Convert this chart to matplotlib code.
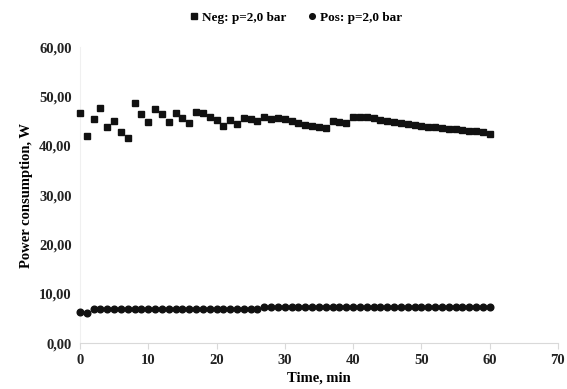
import numpy as np
import matplotlib
matplotlib.use("Agg")
import matplotlib.pyplot as plt

plt.rcParams['font.family'] = ['Liberation Serif', 'DejaVu Serif']
plt.rcParams['font.weight'] = 'bold'

# time in minutes, one reading per minute
time_min = np.arange(0, 61)

# Neg: p=2,0 bar
neg_power = [46.7, 42.0, 45.4, 47.7, 43.7, 45.0, 42.7, 41.5, 48.7, 46.5,
             44.8, 47.5, 46.5, 44.9, 46.6, 45.6, 44.6, 46.8, 46.6, 45.8,
             45.2, 44.1, 45.2, 44.4, 45.7, 45.4, 45.0, 45.9, 45.4, 45.7,
             45.4, 45.0, 44.6, 44.3, 44.0, 43.7, 43.5, 45.1, 44.8, 44.6,
             45.9, 45.9, 45.8, 45.6, 45.2, 45.0, 44.8, 44.6, 44.4, 44.2,
             44.0, 43.8, 43.7, 43.6, 43.4, 43.3, 43.2, 43.0, 42.9, 42.7,
             42.3]

# Pos: p=2,0 bar
pos_power = [6.4, 6.2] + [7.0] * 25 + [7.3] * 34

x_ticks = [0, 10, 20, 30, 40, 50, 60, 70]
y_ticks = [0, 10, 20, 30, 40, 50, 60]

fig = plt.figure(figsize=(5.67, 3.89), dpi=100)
ax = fig.add_axes([0.141, 0.118, 0.843, 0.761])

ax.plot(time_min, neg_power, linestyle='none', marker='s', markersize=4.8,
        color='#111111', label='Neg: p=2,0 bar', clip_on=False, zorder=5)
ax.plot(time_min, pos_power, linestyle='none', marker='o', markersize=4.8,
        color='#111111', label='Pos: p=2,0 bar', clip_on=False, zorder=5)

ax.set_xlim(0, 70)
ax.set_ylim(0, 60)
ax.set_xticks(x_ticks)
ax.set_yticks(y_ticks)
ax.set_yticklabels([('%.2f' % v).replace('.', ',') for v in y_ticks])

for s in ['top', 'right']:
    ax.spines[s].set_visible(False)
ax.spines['bottom'].set_color('#d9d9d9')
ax.spines['left'].set_color('#f0f0f0')
ax.tick_params(axis='x', colors='#d9d9d9', length=4, labelcolor='#222222',
               labelsize=10.5, pad=4)
ax.tick_params(axis='y', length=0, labelcolor='#222222', labelsize=10.5, pad=6)

ax.set_xlabel('Time, min', fontsize=10.5, fontweight='bold', labelpad=3)
ax.set_ylabel('Power consumption, W', fontsize=10.5, fontweight='bold', labelpad=4)

fig.legend(loc='upper center', bbox_to_anchor=(0.52, 1.0), ncol=2, frameon=False,
           fontsize=9.5, handletextpad=0.1, columnspacing=1.5, markerscale=0.85,
           handlelength=1.0)

fig.savefig('out.png', dpi=100)
